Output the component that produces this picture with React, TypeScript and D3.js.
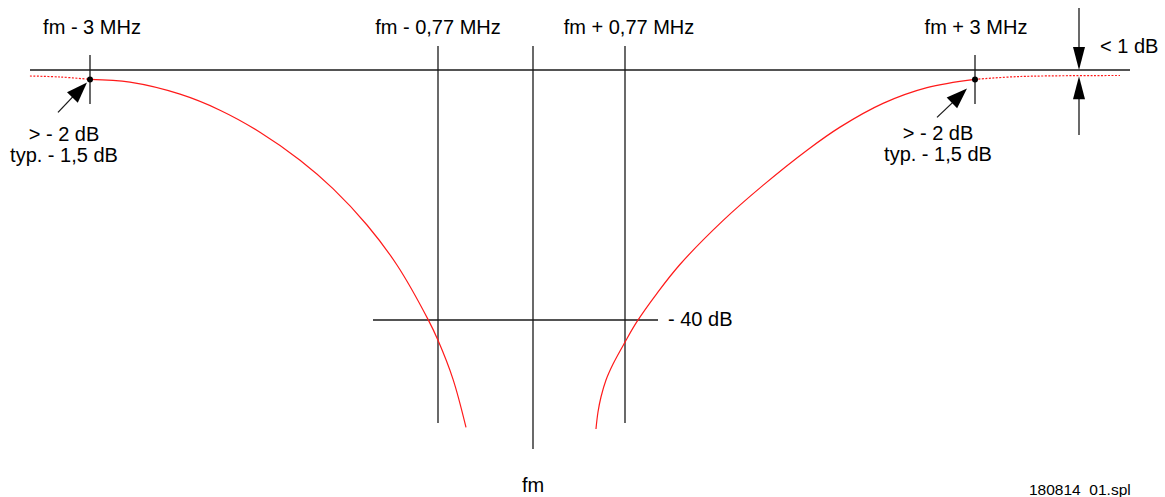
import React from "react";
import * as d3 from "d3";

// Frequency offsets (MHz) of the reference marks and their labels
const markerFreqs = [-3, -0.77, 0, 0.77, 3];
const markerLabels = ["fm - 3 MHz", "fm - 0,77 MHz", "", "fm + 0,77 MHz", "fm + 3 MHz"];

// Left flank of the filter response (MHz offset, dB)
const leftFreq = [-3, -2.744, -2.423, -2.167, -1.911, -1.654, -1.443, -1.225, -1.033, -0.834, -0.77, -0.648, -0.543];
const leftDb = [-1.5, -1.95, -3.87, -6.43, -9.95, -14.43, -18.98, -24.8, -31.2, -39.9, -43.25, -49.49, -57.18];

// Right flank of the filter response (MHz offset, dB)
const rightFreq = [0.527, 0.544, 0.569, 0.611, 0.67, 0.77, 0.846, 0.974, 1.12, 1.394, 1.649, 1.93, 2.14, 2.414, 2.694, 3];
const rightDb = [-57.44, -54.72, -52.32, -49.6, -47.04, -43.54, -40.27, -35.73, -31.12, -24.1, -18.46, -12.83, -9.14, -5.34, -2.82, -1.5];

// Dotted continuation outside the ±3 MHz marks
const leftDotFreq = [-3.385, -3.19, -3];
const leftDotDb = [-0.96, -1.12, -1.5];
const rightDotFreq = [3, 3.287, 3.924];
const rightDotDb = [-1.5, -1.04, -0.88];

const refDb = -40;
const refDbLabel = "- 40 dB";
const rippleDb = [0, -1];
const rippleLabel = "< 1 dB";
const spotLabels = ["> - 2 dB", "typ. - 1,5 dB"];
const centerLabel = "fm";
const fileLabel = "180814_01.spl";

const W = 1165;
const H = 497;
const FONT = "'Liberation Sans', Arial, Helvetica, sans-serif";

export default function App() {
  const x = d3.scaleLinear().domain(markerFreqs).range([90, 438, 533, 625, 975]);
  const y = d3.scaleLinear().domain([0, -40]).range([70, 320]);

  const line = d3
    .line<[number, number]>()
    .x((d) => x(d[0]))
    .y((d) => y(d[1]))
    .curve(d3.curveCatmullRom.alpha(0.5));

  const zip = (a: number[], b: number[]) => a.map((v, i) => [v, b[i]] as [number, number]);

  const red = "#ff1a1a";
  const ink = "#1a1a1a";

  const arrowHead = (tx: number, ty: number, dx: number, dy: number, len: number, hw: number) => {
    const n = Math.hypot(dx, dy);
    const ux = dx / n, uy = dy / n;
    const bx = tx - ux * len, by = ty - uy * len;
    const px = -uy * hw, py = ux * hw;
    return `${tx},${ty} ${bx + px},${by + py} ${bx - px},${by - py}`;
  };

  const dotL: [number, number] = [x(-3), y(-1.5)];
  const dotR: [number, number] = [x(3), y(-1.5)];
  const tipL: [number, number] = [dotL[0] - 3, dotL[1] + 3];
  const tailL: [number, number] = [tipL[0] - 29, tipL[1] + 30];
  const tipR: [number, number] = [dotR[0] - 8, dotR[1] + 9];
  const tailR: [number, number] = [tipR[0] - 30, tipR[1] + 29];

  const ax = 1079;

  return (
    <svg
      width={W}
      height={H}
      style={{ position: "absolute", left: 0, top: 0, background: "#fff" }}
      fontFamily={FONT}
    >
      <rect x={0} y={0} width={W} height={H} fill="#fff" />
      {/* 0 dB line */}
      <line x1={30} x2={1130} y1={y(0)} y2={y(0)} stroke={ink} strokeWidth={1.3} />
      {/* -40 dB line */}
      <line x1={373} x2={658} y1={y(refDb)} y2={y(refDb)} stroke={ink} strokeWidth={1.3} />
      <text x={668} y={326} fontSize={20} fill="#000">{refDbLabel}</text>

      {/* vertical markers */}
      {markerFreqs.map((f, i) => {
        const outer = Math.abs(f) === 3;
        const center = f === 0;
        const y1 = outer ? 55 : 46;
        const y2 = outer ? 104 : center ? 449 : 423;
        return <line key={i} x1={x(f)} x2={x(f)} y1={y1} y2={y2} stroke={ink} strokeWidth={1.3} />;
      })}
      {markerLabels.map((l, i) =>
        l ? (
          <text key={i} x={x(markerFreqs[i]) + [2, 0, 0, 4, 1][i]} y={34} fontSize={20} textAnchor="middle" fill="#000">
            {l}
          </text>
        ) : null
      )}
      <text x={x(0)} y={492} fontSize={20} textAnchor="middle" fill="#000">{centerLabel}</text>

      {/* response curves */}
      <path d={line(zip(leftFreq, leftDb)) || ""} fill="none" stroke={red} strokeWidth={1.2} />
      <path d={line(zip(rightFreq, rightDb)) || ""} fill="none" stroke={red} strokeWidth={1.2} />
      <path d={line(zip(leftDotFreq, leftDotDb)) || ""} fill="none" stroke={red} strokeWidth={1.2} strokeDasharray="2 1.5" />
      <path d={line(zip(rightDotFreq, rightDotDb)) || ""} fill="none" stroke={red} strokeWidth={1.2} strokeDasharray="2 1.5" />

      {/* spot dots */}
      <circle cx={dotL[0]} cy={dotL[1]} r={3} fill="#000" />
      <circle cx={dotR[0]} cy={dotR[1]} r={3} fill="#000" />

      {/* diagonal arrows */}
      <line x1={tailL[0]} y1={tailL[1]} x2={tipL[0] - 10} y2={tipL[1] + 10} stroke={ink} strokeWidth={1.3} />
      <polygon points={arrowHead(tipL[0], tipL[1], tipL[0] - tailL[0], tipL[1] - tailL[1], 21, 7.5)} fill="#000" />
      <line x1={tailR[0]} y1={tailR[1]} x2={tipR[0] - 10} y2={tipR[1] + 10} stroke={ink} strokeWidth={1.3} />
      <polygon points={arrowHead(tipR[0], tipR[1], tipR[0] - tailR[0], tipR[1] - tailR[1], 21, 7.5)} fill="#000" />

      {spotLabels.map((l, i) => (
        <text key={"l" + i} x={64} y={141 + i * 21} fontSize={20} textAnchor="middle" fill="#000">{l}</text>
      ))}
      {spotLabels.map((l, i) => (
        <text key={"r" + i} x={938} y={140 + i * 21} fontSize={20} textAnchor="middle" fill="#000">{l}</text>
      ))}

      {/* ripple arrows */}
      <line x1={ax} x2={ax} y1={8} y2={y(rippleDb[0]) - 15} stroke={ink} strokeWidth={1.3} />
      <polygon points={arrowHead(ax, y(rippleDb[0]), 0, 1, 23, 6)} fill="#000" />
      <line x1={ax} x2={ax} y1={y(rippleDb[1]) + 15} y2={135} stroke={ink} strokeWidth={1.3} />
      <polygon points={arrowHead(ax, y(rippleDb[1]), 0, -1, 23, 6)} fill="#000" />
      <text x={1100} y={53} fontSize={20} fill="#000">{rippleLabel}</text>

      <text x={1029} y={495} fontSize={15.5} fill="#000">{fileLabel}</text>
    </svg>
  );
}
